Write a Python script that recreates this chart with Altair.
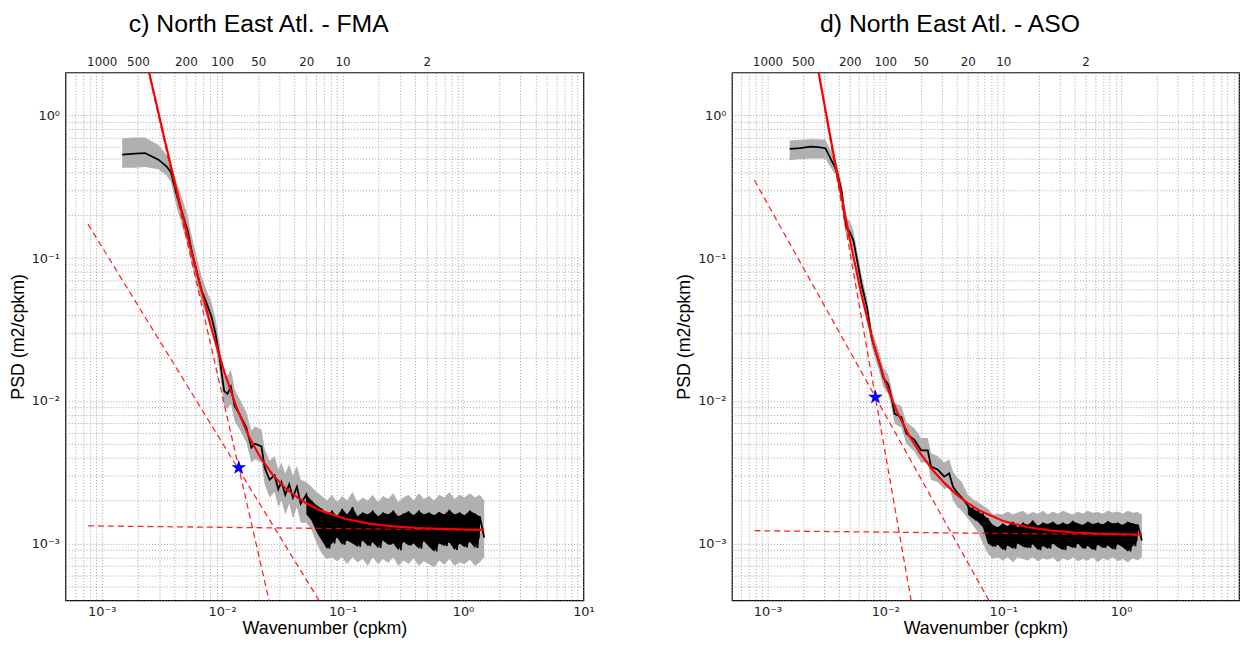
import altair as alt
import pandas as pd

# ---------------- data ----------------
# shared wavenumber grid (cpkm) for the noisy high-wavenumber part of both spectra
NOISE_K = [0.0501, 0.0526, 0.0552, 0.0580, 0.0610, 0.0640, 0.0672, 0.0706, 0.0741, 0.0778,
           0.0817, 0.0857, 0.0900, 0.0946, 0.0993, 0.104, 0.109, 0.115, 0.121, 0.127,
           0.133, 0.140, 0.147, 0.154, 0.162, 0.170, 0.178, 0.187, 0.197, 0.207,
           0.217, 0.228, 0.239, 0.251, 0.264, 0.277, 0.290, 0.305, 0.321, 0.337,
           0.353, 0.371, 0.389, 0.409, 0.430, 0.451, 0.473, 0.497, 0.522, 0.548,
           0.575, 0.604, 0.634, 0.667, 0.700, 0.735, 0.771, 0.809, 0.851, 0.893,
           0.938, 0.984, 1.03, 1.08, 1.14, 1.20, 1.26, 1.32, 1.38, 1.50]

# ---- c) FMA ----
FMA_K = [1.48e-3, 1.89e-3, 2.29e-3, 2.96e-3, 3.45e-3, 3.76e-3, 4.18e-3, 4.6e-3, 5.16e-3, 5.57e-3,
         6.17e-3, 6.74e-3, 7.52e-3, 8.15e-3, 8.78e-3, 9.55e-3, 0.01039, 0.01108, 0.01181, 0.01233,
         0.01271, 0.0140, 0.01588, 0.0175, 0.01881, 0.02121, 0.02257, 0.02477, 0.02727, 0.02926,
         0.03104, 0.03344, 0.03605, 0.03867, 0.0418, 0.04494]
FMA_PSD = [0.532, 0.54, 0.545, 0.49, 0.44, 0.40, 0.28, 0.216, 0.157, 0.114,
           0.08, 0.06, 0.047, 0.039, 0.030, 0.0198, 0.0117, 0.0112, 0.0126, 0.0105,
           0.0092, 0.0080, 0.0065, 0.0047, 0.0050, 0.0048, 0.0034, 0.0028, 0.0030, 0.0024,
           0.0027, 0.0022, 0.0026, 0.0021, 0.0025, 0.0019]
FMA_LO = [0.43, 0.43, 0.435, 0.42, 0.38, 0.34, 0.23, 0.175, 0.125, 0.092,
          0.066, 0.049, 0.038, 0.031, 0.024, 0.016, 0.0092, 0.0088, 0.0095, 0.0082,
          0.0072, 0.0063, 0.0051, 0.0037, 0.0039, 0.0037, 0.0026, 0.0021, 0.0023, 0.0018,
          0.0020, 0.0016, 0.0019, 0.0015, 0.0018, 0.0014]
FMA_HI = [0.69, 0.70, 0.70, 0.62, 0.53, 0.46, 0.34, 0.27, 0.20, 0.145,
          0.10, 0.075, 0.058, 0.049, 0.038, 0.025, 0.0150, 0.0150, 0.0165, 0.0140,
          0.0120, 0.0103, 0.0083, 0.0062, 0.0066, 0.0063, 0.0046, 0.0038, 0.0041, 0.0033,
          0.0037, 0.0031, 0.0036, 0.0030, 0.0035, 0.0028]
FMA_NOISE_PSD = [2.2e-3, 1.6e-3, 2.0e-3, 1.45e-3, 1.85e-3, 1.2e-3, 1.75e-3, 1.05e-3, 1.6e-3, 0.92e-3,
                 1.7e-3, 1.0e-3, 1.55e-3, 1.1e-3, 1.75e-3, 0.98e-3, 1.6e-3, 1.05e-3, 1.8e-3, 1.0e-3,
                 1.55e-3, 0.95e-3, 1.65e-3, 1.05e-3, 1.6e-3, 0.96e-3, 1.7e-3, 1.02e-3, 1.55e-3, 0.93e-3,
                 1.65e-3, 1.05e-3, 1.6e-3, 0.98e-3, 1.7e-3, 1.0e-3, 1.55e-3, 0.9e-3, 1.62e-3, 1.03e-3,
                 1.68e-3, 0.97e-3, 1.58e-3, 1.0e-3, 1.7e-3, 0.92e-3, 1.6e-3, 1.04e-3, 1.65e-3, 0.95e-3,
                 1.58e-3, 0.88e-3, 1.66e-3, 1.0e-3, 1.6e-3, 0.96e-3, 1.72e-3, 1.02e-3, 1.6e-3, 0.9e-3,
                 1.65e-3, 1.0e-3, 1.58e-3, 0.94e-3, 1.7e-3, 1.03e-3, 1.62e-3, 0.93e-3, 1.55e-3, 1.1e-3]
# grey band on every other noise wavenumber (plus the last one)
FMA_NOISE_LO = [1.4e-3, 1.25e-3, 1.0e-3, 0.85e-3, 0.78e-3, 0.8e-3, 0.75e-3, 0.8e-3, 0.72e-3, 0.8e-3,
                0.74e-3, 0.78e-3, 0.7e-3, 0.8e-3, 0.72e-3, 0.78e-3, 0.73e-3, 0.8e-3, 0.7e-3, 0.76e-3,
                0.72e-3, 0.79e-3, 0.7e-3, 0.75e-3, 0.72e-3, 0.68e-3, 0.76e-3, 0.71e-3, 0.78e-3, 0.7e-3,
                0.74e-3, 0.72e-3, 0.77e-3, 0.7e-3, 0.74e-3, 0.8e-3]
FMA_NOISE_HI = [2.7e-3, 2.5e-3, 2.3e-3, 2.15e-3, 2.0e-3, 2.2e-3, 1.95e-3, 2.15e-3, 2.0e-3, 2.3e-3,
                1.95e-3, 2.1e-3, 2.0e-3, 2.2e-3, 1.95e-3, 2.15e-3, 2.05e-3, 2.25e-3, 1.95e-3, 2.1e-3,
                2.2e-3, 2.0e-3, 2.25e-3, 2.05e-3, 2.15e-3, 2.0e-3, 2.2e-3, 2.1e-3, 2.3e-3, 2.05e-3,
                2.2e-3, 2.1e-3, 2.25e-3, 2.1e-3, 2.2e-3, 2.0e-3]
FMA_FIT_K = [2.339e-3, 2.507e-3, 2.944e-3, 3.30e-3, 4.16e-3, 5.23e-3, 6.59e-3, 8.30e-3, 0.01045, 0.01315,
             0.01656, 0.02084, 0.02624, 0.03304, 0.0416, 0.0524, 0.0659, 0.1045, 0.1656, 0.2624,
             0.416, 0.659, 1.045, 1.50]
FMA_FIT_PSD = [2.47, 1.915, 1.065, 0.70, 0.307, 0.137, 0.0632, 0.0305, 0.01585, 0.00902,
               0.0057, 0.00399, 0.00304, 0.00247, 0.00212, 0.00187, 0.00170, 0.00149, 0.00138, 0.00132,
               0.001285, 0.001265, 0.001254, 0.001245]
FMA_DASH_K = [[7.7e-4, 0.0702], [2.31e-3, 0.0254], [7.7e-4, 1.50]]
FMA_DASH_PSD = [[0.173, 3.5e-4], [2.5, 3.5e-4], [1.33e-3, 1.24e-3]]
FMA_STAR = [0.01375, 3.4e-3]

# ---- d) ASO ----
ASO_K = [1.545e-3, 1.9e-3, 2.32e-3, 2.7e-3, 3.10e-3, 3.89e-3, 4.28e-3, 4.63e-3, 5.03e-3, 5.37e-3,
         6.31e-3, 7.0e-3, 7.66e-3, 8.3e-3, 9.0e-3, 9.6e-3, 0.01057, 0.01127, 0.0120, 0.01368,
         0.01507, 0.0177, 0.0201, 0.0229, 0.0244, 0.0278, 0.0316, 0.0348, 0.0375, 0.0409, 0.0445]
ASO_PSD = [0.582, 0.59, 0.604, 0.60, 0.589, 0.405, 0.287, 0.168, 0.151, 0.132,
           0.0646, 0.045, 0.0276, 0.022, 0.018, 0.01455, 0.01306, 0.01057, 0.0081, 0.0077,
           0.0059, 0.0053, 0.0045, 0.0045, 0.00346, 0.0033, 0.00294, 0.0031, 0.0025, 0.00226, 0.0021]
ASO_LO = [0.485, 0.495, 0.50, 0.50, 0.50, 0.366, 0.25, 0.148, 0.132, 0.115,
          0.056, 0.039, 0.024, 0.019, 0.0155, 0.0125, 0.0112, 0.0090, 0.0069, 0.0065,
          0.0050, 0.0044, 0.0037, 0.0037, 0.0028, 0.0027, 0.0024, 0.0025, 0.0020, 0.0018, 0.0017]
ASO_HI = [0.667, 0.675, 0.68, 0.68, 0.675, 0.46, 0.33, 0.195, 0.18, 0.155,
          0.075, 0.052, 0.032, 0.026, 0.021, 0.017, 0.0153, 0.0124, 0.0096, 0.0092,
          0.0071, 0.0064, 0.0055, 0.0055, 0.0043, 0.0041, 0.0037, 0.0039, 0.0032, 0.0029, 0.0027]
ASO_NOISE_PSD = [1.85e-3, 1.6e-3, 1.75e-3, 1.5e-3, 1.68e-3, 1.42e-3, 1.6e-3, 1.3e-3, 1.5e-3, 1.0e-3,
                 1.35e-3, 0.95e-3, 1.3e-3, 0.98e-3, 1.38e-3, 0.9e-3, 1.32e-3, 0.97e-3, 1.42e-3, 0.92e-3,
                 1.3e-3, 1.0e-3, 1.4e-3, 0.95e-3, 1.35e-3, 0.93e-3, 1.45e-3, 0.99e-3, 1.33e-3, 0.9e-3,
                 1.4e-3, 0.96e-3, 1.37e-3, 0.92e-3, 1.42e-3, 1.0e-3, 1.35e-3, 0.94e-3, 1.4e-3, 0.9e-3,
                 1.36e-3, 0.97e-3, 1.44e-3, 0.93e-3, 1.38e-3, 1.0e-3, 1.35e-3, 0.92e-3, 1.42e-3, 0.96e-3,
                 1.37e-3, 0.9e-3, 1.4e-3, 0.98e-3, 1.36e-3, 0.93e-3, 1.43e-3, 0.97e-3, 1.38e-3, 0.91e-3,
                 1.4e-3, 0.99e-3, 1.35e-3, 0.94e-3, 1.42e-3, 0.88e-3, 1.38e-3, 0.96e-3, 1.36e-3, 1.05e-3]
ASO_NOISE_LO = [1.5e-3, 1.35e-3, 1.2e-3, 1.0e-3, 0.85e-3, 0.78e-3, 0.8e-3, 0.76e-3, 0.8e-3, 0.74e-3,
                0.8e-3, 0.78e-3, 0.76e-3, 0.8e-3, 0.75e-3, 0.79e-3, 0.77e-3, 0.8e-3, 0.74e-3, 0.79e-3,
                0.76e-3, 0.8e-3, 0.75e-3, 0.78e-3, 0.76e-3, 0.8e-3, 0.74e-3, 0.79e-3, 0.76e-3, 0.8e-3,
                0.75e-3, 0.78e-3, 0.74e-3, 0.79e-3, 0.76e-3, 0.8e-3]
ASO_NOISE_HI = [2.2e-3, 2.05e-3, 1.95e-3, 1.85e-3, 1.75e-3, 1.6e-3, 1.62e-3, 1.6e-3, 1.68e-3, 1.6e-3,
                1.65e-3, 1.7e-3, 1.6e-3, 1.66e-3, 1.62e-3, 1.7e-3, 1.6e-3, 1.68e-3, 1.62e-3, 1.7e-3,
                1.64e-3, 1.6e-3, 1.68e-3, 1.62e-3, 1.7e-3, 1.64e-3, 1.66e-3, 1.62e-3, 1.7e-3, 1.65e-3,
                1.68e-3, 1.62e-3, 1.7e-3, 1.64e-3, 1.66e-3, 1.6e-3]
ASO_FIT_K = [2.512e-3, 2.63e-3, 3.162e-3, 3.981e-3, 5.012e-3, 6.31e-3, 7.943e-3, 0.01, 0.01259, 0.01585,
             0.01995, 0.02512, 0.03162, 0.03981, 0.05012, 0.0631, 0.1, 0.1585, 0.2512, 0.3981,
             0.631, 1.0, 1.50]
ASO_FIT_PSD = [2.89, 2.33, 1.002, 0.3567, 0.1333, 0.0542, 0.02506, 0.01348, 0.00835, 0.00574,
               0.00425, 0.00329, 0.00266, 0.00222, 0.00192, 0.00170, 0.00144, 0.001305, 0.001234, 0.001195,
               0.001173, 0.001162, 0.001153]
ASO_DASH_K = [[7.76e-4, 0.0826], [2.58e-3, 0.01702], [7.76e-4, 1.50]]
ASO_DASH_PSD = [[0.351, 3.5e-4], [2.5, 3.5e-4], [1.23e-3, 1.148e-3]]
ASO_STAR = [8.24e-3, 0.0106]

# axis text
TOP_WAVELENGTHS_KM = [1000, 500, 200, 100, 50, 20, 10, 2]
X_MAJOR = [(0.001, "10\u207b\u00b3"), (0.01, "10\u207b\u00b2"), (0.1, "10\u207b\u00b9"),
           (1, "10\u2070"), (10, "10\u00b9")]
Y_MAJOR = [(1, "10\u2070"), (0.1, "10\u207b\u00b9"), (0.01, "10\u207b\u00b2"), (0.001, "10\u207b\u00b3")]

# ---------------- chart ----------------
X_DOMAIN = [5e-4, 10]
Y_DOMAIN = [4e-4, 2]
X_GRID = [m * 10.0 ** e for e in range(-4, 2) for m in range(1, 10) if 5e-4 * 0.999 <= m * 10.0 ** e <= 10 * 1.001]
Y_GRID = [m * 10.0 ** e for e in range(-4, 1) for m in range(1, 10) if 4e-4 * 0.999 <= m * 10.0 ** e <= 2 * 1.001]

STAR_PATH = ("M0,-1L0.2245,-0.309L0.9511,-0.309L0.3633,0.118L0.5878,0.809L0,0.382"
             "L-0.5878,0.809L-0.3633,0.118L-0.9511,-0.309L-0.2245,-0.309Z")

TICK_FONT = "DejaVu Sans"
TEXT_FONT = "Liberation Sans"
GRID_COLOR = "#8c8c8c"
PLOT_H = 533


def label_expr(pairs):
    s = ""
    for v, lab in pairs:
        s += f"abs(datum.value / {v} - 1) < 1e-6 ? '{lab}' : "
    return s + "''"


def panel(title, title_dx, width, k, psd, lo, hi, noise_psd, noise_lo, noise_hi,
          fit_k, fit_psd, dash_k, dash_psd, star, x_labels):
    xs = alt.Scale(type="log", domain=X_DOMAIN, nice=False)
    ys = alt.Scale(type="log", domain=Y_DOMAIN, nice=False)

    band_k = NOISE_K[0::2] + [NOISE_K[-1]]
    band_df = pd.DataFrame({"k": k + band_k, "lo": lo + noise_lo, "hi": hi + noise_hi})
    line_df = pd.DataFrame({"k": k + NOISE_K, "psd": psd + noise_psd})
    # dense black core of the noisy spectrum: span between each high sample and the next low one
    core_df = pd.DataFrame({"k": NOISE_K[0::2], "hi": noise_psd[0::2], "lo": noise_psd[1::2]})
    fit_df = pd.DataFrame({"k": fit_k, "psd": fit_psd})
    rows = []
    for i, (kk, pp) in enumerate(zip(dash_k, dash_psd)):
        for a, b in zip(kk, pp):
            rows.append({"k": a, "psd": b, "seg": i})
    dash_df = pd.DataFrame(rows)
    star_df = pd.DataFrame({"k": [star[0]], "psd": [star[1]]})

    x_axis = alt.Axis(orient="bottom", values=X_GRID, labelExpr=label_expr(x_labels),
                      grid=True, gridDash=[1, 2], gridColor=GRID_COLOR, gridWidth=0.8,
                      ticks=False, domain=False, labelOverlap=False, labelFlush=False,
                      labelPadding=5, labelFont=TICK_FONT, labelFontSize=13, labelColor="#222222",
                      title="Wavenumber (cpkm)", titleFont=TEXT_FONT, titleFontSize=18,
                      titleFontWeight="normal", titlePadding=2, titleColor="black")
    y_axis = alt.Axis(orient="left", values=Y_GRID, labelExpr=label_expr(Y_MAJOR),
                      grid=True, gridDash=[1, 2], gridColor=GRID_COLOR, gridWidth=0.8,
                      ticks=False, domain=False, labelOverlap=False, labelFlush=False,
                      labelPadding=6, labelFont=TICK_FONT, labelFontSize=13, labelColor="#222222",
                      title="PSD (m2/cpkm)", titleFont=TEXT_FONT, titleFontSize=18,
                      titleFontWeight="normal", titlePadding=4, titleColor="black")
    top_axis = alt.Axis(orient="top", values=[1.0 / w for w in TOP_WAVELENGTHS_KM],
                        labelExpr="'' + round(1 / datum.value)", grid=False, ticks=False,
                        domain=False, labelOverlap=False, labelFlush=False, labelPadding=4,
                        labelFont=TICK_FONT, labelFontSize=12, labelColor="#222222",
                        title=None)

    band = alt.Chart(band_df).mark_area(color="#b0b0b0", clip=True).encode(
        x=alt.X("k:Q", scale=xs, axis=x_axis),
        y=alt.Y("lo:Q", scale=ys, axis=y_axis),
        y2="hi:Q",
    )
    core = alt.Chart(core_df).mark_area(color="black", clip=True).encode(
        x=alt.X("k:Q", scale=xs, axis=None),
        y=alt.Y("lo:Q", scale=ys, axis=y_axis),
        y2="hi:Q",
    )
    black = alt.Chart(line_df).mark_line(color="black", strokeWidth=1.8, clip=True).encode(
        x=alt.X("k:Q", scale=xs, axis=None),
        y=alt.Y("psd:Q", scale=ys, axis=y_axis),
    )
    fit = alt.Chart(fit_df).mark_line(color="#ff0000", strokeWidth=2.2, clip=True).encode(
        x=alt.X("k:Q", scale=xs, axis=None),
        y=alt.Y("psd:Q", scale=ys, axis=y_axis),
    )
    dashes = alt.Chart(dash_df).mark_line(color="#ff0000", strokeWidth=1.3, strokeDash=[6, 4],
                                          opacity=0.85, clip=True).encode(
        x=alt.X("k:Q", scale=xs, axis=None),
        y=alt.Y("psd:Q", scale=ys, axis=y_axis),
        detail="seg:N",
    )
    star_mark = alt.Chart(star_df).mark_point(shape=STAR_PATH, size=250, filled=True,
                                               color="#0000ff", opacity=1, clip=True).encode(
        x=alt.X("k:Q", scale=xs, axis=None),
        y=alt.Y("psd:Q", scale=ys, axis=y_axis),
    )
    top = alt.Chart(star_df).mark_point(opacity=0).encode(
        x=alt.X("k:Q", scale=xs, axis=top_axis),
        y=alt.Y("psd:Q", scale=ys, axis=y_axis),
    )
    return alt.layer(band, core, black, fit, dashes, star_mark, top).resolve_axis(
        x="independent"
    ).properties(
        width=width, height=PLOT_H,
        title=alt.TitleParams(title, font=TEXT_FONT, fontSize=25, fontWeight="normal",
                              color="black", anchor="start", frame="group", dx=title_dx,
                              offset=19),
    )


left = panel("c) North East Atl. - FMA", 64, 523, FMA_K, FMA_PSD, FMA_LO, FMA_HI,
             FMA_NOISE_PSD, FMA_NOISE_LO, FMA_NOISE_HI, FMA_FIT_K, FMA_FIT_PSD,
             FMA_DASH_K, FMA_DASH_PSD, FMA_STAR, X_MAJOR)
right = panel("d) North East Atl. - ASO", 89, 512, ASO_K, ASO_PSD, ASO_LO, ASO_HI,
              ASO_NOISE_PSD, ASO_NOISE_LO, ASO_NOISE_HI, ASO_FIT_K, ASO_FIT_PSD,
              ASO_DASH_K, ASO_DASH_PSD, ASO_STAR, X_MAJOR[:-1])

chart = alt.hconcat(left, right, spacing=80).properties(padding=0).configure(
    background="white"
).configure_view(
    stroke="black", strokeWidth=1.2
)

chart.save("out.html", embed_options={"renderer": "svg", "actions": False})
